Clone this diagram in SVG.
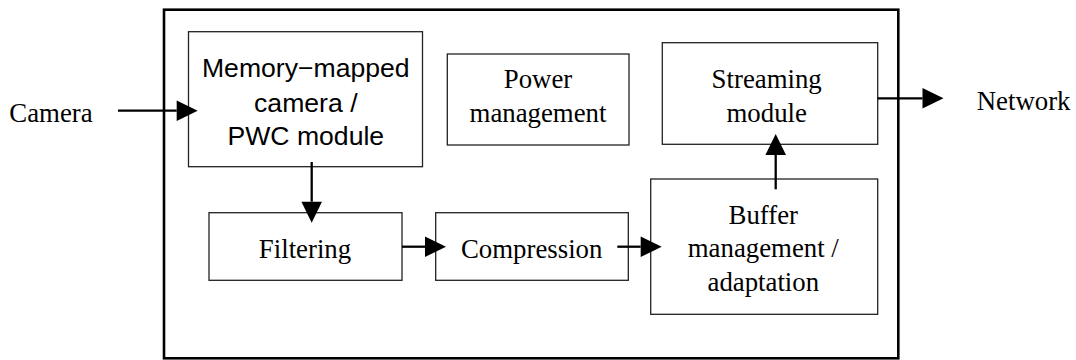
<svg xmlns="http://www.w3.org/2000/svg" width="1076" height="360" viewBox="0 0 1076 360">
<style>
  .frame{fill:none;stroke:#000;stroke-width:2.6}
  .box{fill:#fff;stroke:#222;stroke-width:1.3}
  .serif{font-family:"Liberation Serif","Times New Roman",serif;font-size:26.8px;fill:#000}
  .sans{font-family:"Liberation Sans",Arial,sans-serif;font-size:26.6px;fill:#000}
  .mid{text-anchor:middle}
  .conn{stroke:#000;stroke-width:2.3;fill:none;marker-end:url(#head)}
</style>
<defs>
  <marker id="head" markerUnits="userSpaceOnUse" markerWidth="22" markerHeight="22" refX="0" refY="10.3" orient="auto" overflow="visible">
    <path d="M0,0 L21,10.3 L0,20.6 Z" fill="#000"/>
  </marker>
</defs>
<rect id="system" class="frame" x="164" y="9.7" width="734.3" height="348.6"/>
<text id="camera-label" class="serif" x="9.3" y="121.5">Camera</text>
<text id="network-label" class="serif" x="976.7" y="110">Network</text>
<g id="pwc">
  <rect class="box" x="188.5" y="31.7" width="234" height="135"/>
  <text class="sans mid" x="305.8" y="77">Memory−mapped</text>
  <text class="sans mid" x="305.8" y="111.5">camera /</text>
  <text class="sans mid" x="305.8" y="145">PWC module</text>
</g>
<g id="power">
  <rect class="box" x="447.3" y="54" width="181.7" height="91"/>
  <text class="serif mid" x="538" y="88.3">Power</text>
  <text class="serif mid" x="538" y="121.7">management</text>
</g>
<g id="streaming">
  <rect class="box" x="662.3" y="42.7" width="215.4" height="101.6"/>
  <text class="serif mid" x="766.7" y="88.3">Streaming</text>
  <text class="serif mid" x="766.7" y="121.7">module</text>
</g>
<g id="filtering">
  <rect class="box" x="209" y="212.7" width="193" height="67.6"/>
  <text class="serif mid" x="305" y="258.3">Filtering</text>
</g>
<g id="compression">
  <rect class="box" x="435.7" y="212.7" width="192.6" height="67.6"/>
  <text class="serif mid" x="531.7" y="258.3">Compression</text>
</g>
<g id="buffer">
  <rect class="box" x="650.7" y="179" width="227" height="135.3"/>
  <text class="serif mid" x="763.3" y="224">Buffer</text>
  <text class="serif mid" x="763.3" y="257.3">management /</text>
  <text class="serif mid" x="763.3" y="290.7">adaptation</text>
</g>
<g id="connectors">
  <line class="conn" x1="118" y1="110.7" x2="176.7" y2="110.7"/>
  <line class="conn" x1="311.7" y1="162" x2="311.7" y2="201.7"/>
  <line class="conn" x1="402" y1="246.7" x2="425" y2="246.7"/>
  <line class="conn" x1="617.3" y1="246.7" x2="640.7" y2="246.7"/>
  <line class="conn" x1="775.7" y1="189.3" x2="775.7" y2="155"/>
  <line class="conn" x1="877.7" y1="98.3" x2="922.5" y2="98.3"/>
</g>
</svg>
